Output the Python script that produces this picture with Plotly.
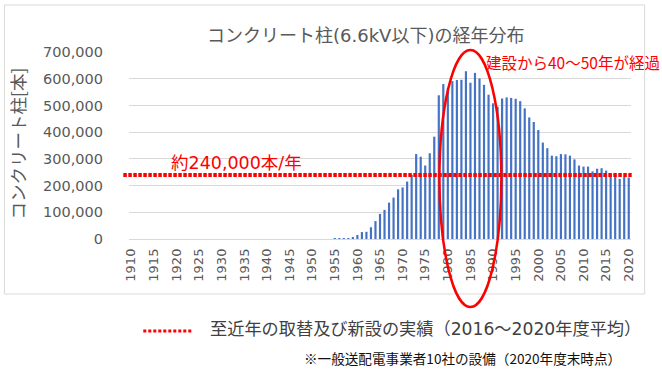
import plotly.graph_objects as go

# ---------------- data ----------------
years = list(range(1910, 2021))
early_zero_years = list(range(1910, 1955))
values_1955_2020 = [
    1000, 1500, 2000, 3000, 6000,                 # 1955-1959
    15000, 26000, 27000, 44000, 67000,            # 1960-1964
    94000, 109000, 136000, 155000, 186000,        # 1965-1969
    193000, 215000, 240000, 318000, 308000,       # 1970-1974
    275000, 321000, 383000, 538000, 580000,       # 1975-1979
    565000, 591000, 595000, 596000, 628000,       # 1980-1984
    585000, 622000, 601000, 577000, 540000,       # 1985-1989
    508000, 495000, 526000, 530000, 528000,       # 1990-1994
    525000, 516000, 489000, 455000, 438000,       # 1995-1999
    408000, 361000, 340000, 312000, 310000,       # 2000-2004
    318000, 317000, 312000, 298000, 275000,       # 2005-2009
    271000, 271000, 253000, 263000, 265000,       # 2010-2014
    256000, 245000, 240000, 225000, 232000,       # 2015-2019
    230000,                                       # 2020
]
poles = [0] * len(early_zero_years) + values_1955_2020
avg_value = 240000
xtick_years = list(range(1910, 2021, 5))
ytick_values = list(range(0, 700001, 100000))

title_text = "コンクリート柱(6.6kV以下)の経年分布"
ytitle_text = "コンクリート柱[本]"
avg_label = "約240,000本/年"
ellipse_label = "建設から40～50年が経過"
legend_text = "至近年の取替及び新設の実績（2016～2020年度平均）"
note_text = "※一般送配電事業者10社の設備（2020年度末時点）"

# ---------------- geometry helpers (pixels -> paper) ----------------
W, H = 662, 374
PL, PR, PT, PB = 128.7, 631.3, 52.0, 239.0


def px(x):
    return (x - PL) / (PR - PL)


def py(y):
    return (PB - y) / (PB - PT)


FONT = "Noto Sans CJK JP, Noto Sans, sans-serif"
FONT_MIX = "DejaVu Sans, Noto Sans CJK JP, sans-serif"
GRAY = "#595959"
RED = "#FF0000"

fig = go.Figure()
fig.add_trace(go.Bar(
    x=years, y=poles,
    marker=dict(color="#4472C4", line=dict(width=0)),
    showlegend=False,
    hoverinfo="x+y",
))

shapes = [
    # outer chart border
    dict(type="rect", xref="paper", yref="paper",
         x0=px(4), x1=px(645), y0=py(294), y1=py(5),
         line=dict(color="#D9D9D9", width=1), layer="below"),
    # average line
    dict(type="line", xref="paper", yref="y",
         x0=px(123), x1=px(632), y0=avg_value, y1=avg_value,
         line=dict(color=RED, width=4, dash="3.5px,1.5px"), layer="above"),
    # ellipse
    dict(type="circle", xref="paper", yref="paper",
         x0=px(439.5), x1=px(501.5), y0=py(307), y1=py(50),
         line=dict(color=RED, width=2.5), layer="above"),
    # legend sample
    dict(type="line", xref="paper", yref="paper",
         x0=px(143), x1=px(192), y0=py(331), y1=py(331),
         line=dict(color=RED, width=3, dash="3px,2px")),
]

annotations = [
    dict(text=title_text, xref="paper", yref="paper", x=px(365), y=py(35),
         xanchor="center", yanchor="middle", showarrow=False,
         font=dict(family=FONT_MIX, size=18, color=GRAY)),
    dict(text=ytitle_text, xref="paper", yref="paper", x=px(17), y=py(143),
         xanchor="center", yanchor="middle", showarrow=False, textangle=-90,
         font=dict(family=FONT, size=17.5, color=GRAY)),
    dict(text=avg_label, xref="paper", yref="paper", x=px(236), y=py(163),
         xanchor="center", yanchor="middle", showarrow=False,
         font=dict(family=FONT_MIX, size=17.5, color=RED)),
    dict(text=ellipse_label, xref="paper", yref="paper", x=px(573), y=py(62),
         xanchor="center", yanchor="middle", showarrow=False,
         font=dict(family=FONT, size=15.5, color=RED)),
    dict(text=legend_text, xref="paper", yref="paper", x=px(208), y=py(329),
         xanchor="left", yanchor="middle", showarrow=False,
         font=dict(family=FONT_MIX, size=17.2, color="#404040")),
    dict(text=note_text, xref="paper", yref="paper", x=px(302), y=py(358),
         xanchor="left", yanchor="middle", showarrow=False,
         font=dict(family=FONT, size=13.6, color="#111111")),
]

fig.update_layout(
    width=W, height=H,
    margin=dict(l=PL, r=W - PR, t=PT, b=H - PB, pad=0),
    paper_bgcolor="white", plot_bgcolor="white",
    bargap=0.52,
    shapes=shapes,
    annotations=annotations,
    font=dict(family=FONT, color=GRAY),
    xaxis=dict(
        type="linear", range=[1909.5, 2020.5],
        tickmode="array", tickvals=xtick_years,
        ticktext=[str(y) for y in xtick_years],
        tickangle=-90, tickfont=dict(family="DejaVu Sans", size=13, color=GRAY),
        showgrid=False, zeroline=False, showline=False, ticks="",
        ticklabelstandoff=6,
    ),
    yaxis=dict(
        range=[0, 700000], tickmode="array", tickvals=ytick_values,
        ticktext=[f"{v:,}" for v in ytick_values],
        tickfont=dict(family="DejaVu Sans", size=14.5, color=GRAY),
        showgrid=True, gridcolor="#D9D9D9", gridwidth=1,
        zeroline=True, zerolinecolor="#D9D9D9", zerolinewidth=1,
        showline=False, ticks="", ticklabelstandoff=25,
    ),
)

fig.write_html(
    "out.html",
    config={"displayModeBar": False},
    post_script="document.body.style.margin='0px';document.body.style.padding='0px';",
)
